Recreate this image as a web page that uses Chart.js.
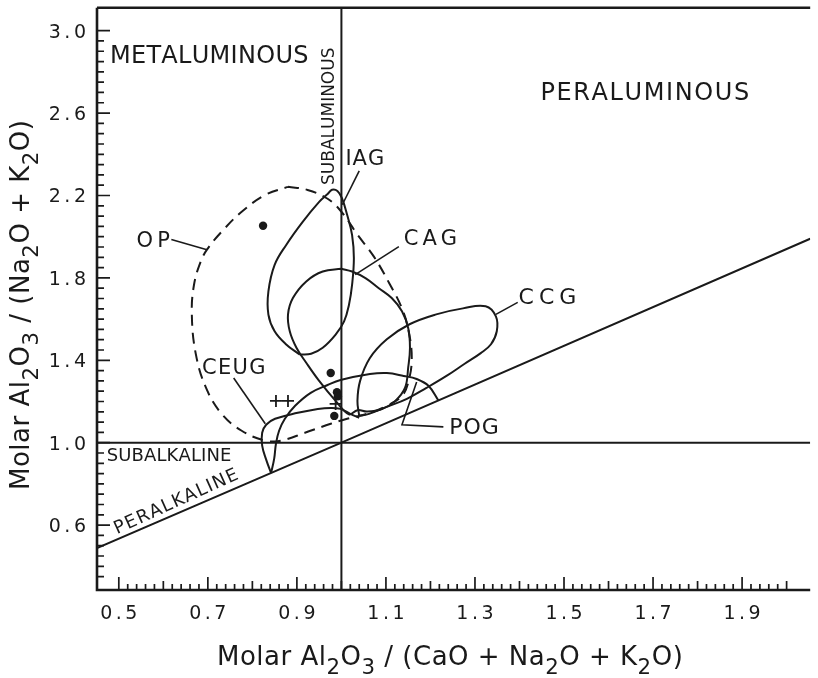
<!DOCTYPE html>
<html><head><meta charset="utf-8">
<script src="https://cdn.jsdelivr.net/npm/chart.js@4.4.0/dist/chart.umd.min.js"></script>
<style>html,body{margin:0;padding:0;background:#fff}canvas{display:block}</style>
</head><body>
<canvas id="c" width="818" height="678" style="width:818px;height:678px"></canvas>
<script>
// ---------- data ----------
const xTickLabels = ['0.5','0.7','0.9','1.1','1.3','1.5','1.7','1.9'];
const yTickLabels = ['0.6','1.0','1.4','1.8','2.2','2.6','3.0'];

const IAG = [[0.906,1.428],[0.876,1.477],[0.850,1.541],[0.836,1.622],[0.836,1.734],[0.850,1.863],[0.876,1.960],[0.913,2.072],[0.950,2.169],[0.969,2.207],[0.979,2.228],[0.991,2.222],[1.001,2.188],[1.013,2.105],[1.024,2.008],[1.028,1.895],[1.024,1.767],[1.017,1.670],[1.006,1.589],[0.987,1.525],[0.958,1.461],[0.932,1.432],[0.906,1.428]];
const CAG = [[1.000,1.844],[1.024,1.831],[1.054,1.799],[1.084,1.750],[1.113,1.702],[1.136,1.638],[1.150,1.557],[1.154,1.461],[1.150,1.364],[1.143,1.267],[1.121,1.203],[1.091,1.163],[1.058,1.151],[1.036,1.158],[1.017,1.138],[0.987,1.203],[0.950,1.300],[0.921,1.388],[0.899,1.461],[0.884,1.541],[0.880,1.622],[0.891,1.702],[0.921,1.783],[0.958,1.831],[1.000,1.844]];
const OP = [[0.880,2.242],[0.924,2.227],[0.969,2.184],[1.000,2.121],[1.036,2.010],[1.073,1.903],[1.109,1.768],[1.136,1.652],[1.151,1.541],[1.158,1.411],[1.151,1.300],[1.136,1.227],[1.102,1.179],[1.064,1.145],[1.013,1.116],[0.976,1.092],[0.918,1.048],[0.864,1.010],[0.829,1.010],[0.776,1.058],[0.731,1.140],[0.696,1.266],[0.673,1.430],[0.664,1.623],[0.669,1.768],[0.684,1.879],[0.698,1.937],[0.731,2.024],[0.776,2.121],[0.829,2.203],[0.880,2.242]];
const CCG = [[1.040,1.130],[1.036,1.203],[1.042,1.300],[1.064,1.411],[1.102,1.502],[1.153,1.575],[1.213,1.623],[1.273,1.652],[1.324,1.662],[1.347,1.613],[1.349,1.541],[1.336,1.478],[1.313,1.435],[1.276,1.382],[1.236,1.324],[1.191,1.266],[1.147,1.213],[1.102,1.174],[1.062,1.140],[1.040,1.130]];
const POG = [[0.842,0.853],[0.849,0.923],[0.853,0.995],[0.860,1.058],[0.873,1.116],[0.896,1.179],[0.931,1.242],[0.969,1.280],[0.998,1.304],[1.064,1.333],[1.102,1.338],[1.140,1.324],[1.169,1.309],[1.196,1.275],[1.218,1.205]];
const CEUG = [[0.842,0.853],[0.831,0.918],[0.822,0.986],[0.822,1.048],[0.831,1.087],[0.851,1.116],[0.902,1.145],[0.947,1.164],[0.976,1.169],[0.998,1.164],[1.020,1.140],[1.040,1.121]];

const dots = [[0.824,2.053],[0.976,1.338],[0.990,1.245],[0.992,1.225],[0.984,1.130]];
const crosses = [[0.853,1.203],[0.880,1.203],[0.987,1.188]];

const vertical = [[1.0,0.285],[1.0,3.111]];
const horizontal = [[0.451,1.0],[2.053,1.0]];
const diagonal = [[0.451,0.488],[1.0,1.0],[2.053,1.99]];

const leaderIAG = [[1.040,2.319],[1.002,2.155]];
const leaderOP = [[0.618,1.986],[0.698,1.937]];
const leaderCAG = [[1.129,1.952],[1.031,1.816]];
const leaderCCG = [[1.347,1.623],[1.396,1.681]];
const leaderCEUG = [[0.758,1.314],[0.829,1.092]];
const leaderPOG = [[1.229,1.077],[1.136,1.087],[1.169,1.295]];

const fieldNames = ['IAG','OP','CAG','CCG','CEUG','POG'];

// ---------- layout / style ----------
const INK = '#1a1a1a';
const FONT = '"DejaVu Sans", "Liberation Sans", sans-serif';
const X_MIN = 0.451, X_MAX = 2.053, Y_MIN = 0.285, Y_MAX = 3.111;

const fieldLabelPos = {
  IAG:  {x:1.009, y:2.348, size:21, sp:1},
  OP:   {x:0.540, y:1.952, size:21, sp:4},
  CAG:  {x:1.140, y:1.961, size:21, sp:4},
  CCG:  {x:1.398, y:1.671, size:22, sp:5},
  CEUG: {x:0.687, y:1.333, size:21, sp:1.3},
  POG:  {x:1.242, y:1.043, size:22, sp:1}
};

const pts = a => a.map(p => ({x:p[0], y:p[1]}));
function lineDS(data, opts) {
  return Object.assign({data: pts(data), showLine:true, borderColor:INK, borderWidth:2,
    pointRadius:0, pointHoverRadius:0, tension:0.4, fill:false}, opts || {});
}

function spacedW(ctx, s, sp) { let w = 0; for (const ch of s) w += ctx.measureText(ch).width + sp; return w - sp; }
function spaced(ctx, s, x, y, sp) { for (const ch of s) { ctx.fillText(ch, x, y); x += ctx.measureText(ch).width + sp; } return x - sp; }
function richText(ctx, parts, x, y, size, sp) {
  let cx = x;
  for (const [t, sub] of parts) {
    ctx.font = (sub ? size * 0.82 : size) + 'px ' + FONT;
    cx = spaced(ctx, t, cx, y + (sub ? size * 0.34 : 0), sp) + sp;
  }
}

const decor = {
  id: 'decor',
  afterDatasetsDraw(chart) {
    const ctx = chart.ctx, xs = chart.scales.x, ys = chart.scales.y;
    const X = v => xs.getPixelForValue(v), Y = v => ys.getPixelForValue(v);
    ctx.save();
    ctx.strokeStyle = INK; ctx.fillStyle = INK; ctx.lineCap = 'butt';
    // frame
    ctx.lineWidth = 2.6;
    ctx.beginPath();
    ctx.moveTo(X(X_MIN), Y(Y_MAX)); ctx.lineTo(X(X_MIN), Y(Y_MIN)); ctx.lineTo(X(X_MAX), Y(Y_MIN));
    ctx.moveTo(X(X_MIN), Y(Y_MAX)); ctx.lineTo(X(X_MAX), Y(Y_MAX));
    ctx.stroke();
    // y ticks (inside)
    ctx.lineWidth = 1.7;
    ctx.beginPath();
    for (let i = 7; i <= 60; i++) {
      const v = i * 0.05, major = (i % 8 === 4);
      const len = major ? 13 : 7;
      ctx.moveTo(X(X_MIN), Y(v)); ctx.lineTo(X(X_MIN) + len, Y(v));
    }
    // x ticks (inside)
    for (let i = 25; i <= 100; i++) {
      const v = i * 0.02;
      let len = 6;
      if (i % 5 === 0) len = ((i / 5) % 2 === 1) ? 13 : 9;
      ctx.moveTo(X(v), Y(Y_MIN)); ctx.lineTo(X(v), Y(Y_MIN) - len);
    }
    ctx.stroke();
    // tick labels
    ctx.font = '19px ' + FONT; ctx.textBaseline = 'alphabetic';
    xTickLabels.forEach(t => {
      const v = parseFloat(t), w = spacedW(ctx, t, 3.5);
      spaced(ctx, t, X(v) - w / 2, 619, 3.5);
    });
    yTickLabels.forEach(t => {
      const v = parseFloat(t), w = spacedW(ctx, t, 3.5);
      spaced(ctx, t, 86 - w, Y(v) + 7, 3.5);
    });
    // axis titles
    richText(ctx, [['Molar Al',0],['2',1],['O',0],['3',1],[' / (CaO + Na',0],['2',1],['O + K',0],['2',1],['O)',0]], 217, 665, 26, 0.5);
    ctx.save();
    ctx.translate(29, 490); ctx.rotate(-Math.PI / 2);
    richText(ctx, [['Molar Al',0],['2',1],['O',0],['3',1],[' / (Na',0],['2',1],['O + K',0],['2',1],['O)',0]], 0, 0, 26, 0.5);
    ctx.restore();
    // region labels
    ctx.font = '24px ' + FONT;
    spaced(ctx, 'METALUMINOUS', X(0.48), Y(2.845), 0.3);
    spaced(ctx, 'PERALUMINOUS', X(1.447), Y(2.662), 1.6);
    ctx.font = '18px ' + FONT;
    spaced(ctx, 'SUBALKALINE', X(0.473), Y(0.913), 0.1);
    ctx.save();
    ctx.translate(X(0.984), Y(2.251)); ctx.rotate(-Math.PI / 2);
    ctx.font = '17px ' + FONT;
    spaced(ctx, 'SUBALUMINOUS', 0, 0, 0);
    ctx.restore();
    ctx.save();
    const ang = Math.atan2(Y(diagonal[1][1]) - Y(diagonal[0][1]), X(diagonal[1][0]) - X(diagonal[0][0]));
    ctx.translate(X(0.496), Y(0.556)); ctx.rotate(ang - 0.02);
    ctx.font = '18px ' + FONT;
    spaced(ctx, 'PERALKALINE', 0, 0, 1.3);
    ctx.restore();
    // field labels
    fieldNames.forEach(n => {
      const p = fieldLabelPos[n];
      ctx.font = p.size + 'px ' + FONT;
      spaced(ctx, n, X(p.x), Y(p.y), p.sp);
    });
    ctx.restore();
  }
};

new Chart(document.getElementById('c'), {
  type: 'scatter',
  data: { datasets: [
    lineDS(vertical, {tension:0}),
    lineDS(horizontal, {tension:0}),
    lineDS(diagonal, {tension:0}),
    lineDS(OP, {borderDash:[11,7]}),
    lineDS(IAG),
    lineDS(CAG),
    lineDS(CCG),
    lineDS(POG),
    lineDS(CEUG),
    lineDS(leaderIAG, {tension:0, borderWidth:1.6}),
    lineDS(leaderOP, {tension:0, borderWidth:1.6}),
    lineDS(leaderCAG, {tension:0, borderWidth:1.6}),
    lineDS(leaderCCG, {tension:0, borderWidth:1.6}),
    lineDS(leaderCEUG, {tension:0, borderWidth:1.6}),
    lineDS(leaderPOG, {tension:0, borderWidth:1.6}),
    {data: pts(dots), showLine:false, pointStyle:'circle', pointRadius:4.2, backgroundColor:INK, borderColor:INK, borderWidth:0},
    {data: pts(crosses), showLine:false, pointStyle:'cross', pointRadius:6, borderColor:INK, borderWidth:1.8}
  ]},
  options: {
    responsive:false, animation:false, devicePixelRatio:1,
    layout:{padding:{left:97, right:0, top:5, bottom:88}},
    plugins:{legend:{display:false}, tooltip:{enabled:false}},
    events:[],
    scales:{
      x:{type:'linear', min:X_MIN, max:X_MAX, display:false},
      y:{type:'linear', min:Y_MIN, max:Y_MAX, display:false}
    }
  },
  plugins:[decor]
});
</script>
</body></html>
